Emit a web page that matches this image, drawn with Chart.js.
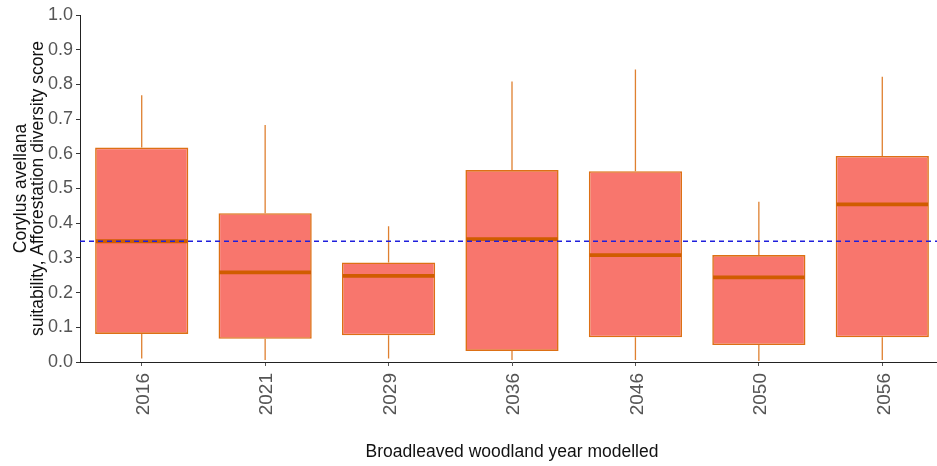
<!DOCTYPE html>
<html>
<head>
<meta charset="utf-8">
<script src="https://cdn.jsdelivr.net/npm/chart.js@4.4.1/dist/chart.umd.min.js"></script>
<style>
  html, body { margin: 0; padding: 0; background: #ffffff; overflow: hidden; }
  #wrap { width: 945px; height: 466px; }
  canvas { display: block; }
</style>
</head>
<body>
<div id="wrap"><canvas id="c" width="945" height="466"></canvas></div>
<script>
// Broadleaved woodland years and the box-plot statistics of the suitability score
const years = ['2016', '2021', '2029', '2036', '2046', '2050', '2056'];
const whiskerLow  = [0.010, 0.006, 0.010, 0.006, 0.006, 0.003, 0.006];
const quartile1   = [0.081, 0.067, 0.077, 0.032, 0.071, 0.049, 0.071];
const medians     = [0.348, 0.258, 0.248, 0.354, 0.308, 0.244, 0.454];
const quartile3   = [0.618, 0.429, 0.287, 0.553, 0.550, 0.308, 0.594];
const whiskerHigh = [0.769, 0.683, 0.391, 0.808, 0.843, 0.462, 0.822];
const referenceScore = 0.348;
const yTicks = [0, 0.1, 0.2, 0.3, 0.4, 0.5, 0.6, 0.7, 0.8, 0.9, 1.0];

const BOX_FILL = '#F8766D';
const BOX_EDGE = '#DD7015';
const WHISKER = '#DF8030';
const MEDIAN = '#D05C00';
const REF_LINE = '#1F1FDC';
const FONT = '"Liberation Sans", Arial, sans-serif';

// whiskers behind the boxes, medians and reference line on top
const boxPlotParts = {
  id: 'boxPlotParts',
  beforeDatasetsDraw(chart) {
    const ctx = chart.ctx;
    const x = chart.scales.x, y = chart.scales.y;
    ctx.save();
    ctx.strokeStyle = WHISKER;
    ctx.lineWidth = 1.3;
    years.forEach((_, i) => {
      const px = x.getPixelForValue(i);
      ctx.beginPath();
      ctx.moveTo(px, y.getPixelForValue(whiskerHigh[i]));
      ctx.lineTo(px, y.getPixelForValue(quartile3[i]));
      ctx.moveTo(px, y.getPixelForValue(quartile1[i]));
      ctx.lineTo(px, y.getPixelForValue(whiskerLow[i]));
      ctx.stroke();
    });
    ctx.restore();
  },
  afterDatasetsDraw(chart) {
    const ctx = chart.ctx;
    const y = chart.scales.y;
    const meta = chart.getDatasetMeta(0);
    ctx.save();
    ctx.strokeStyle = MEDIAN;
    ctx.lineWidth = 3.8;
    meta.data.forEach((bar, i) => {
      const half = bar.width / 2 - 0.8;
      const py = y.getPixelForValue(medians[i]);
      ctx.beginPath();
      ctx.moveTo(bar.x - half, py);
      ctx.lineTo(bar.x + half, py);
      ctx.stroke();
    });
    const area = chart.chartArea;
    const ry = y.getPixelForValue(referenceScore);
    ctx.strokeStyle = REF_LINE;
    ctx.lineWidth = 1.4;
    ctx.setLineDash([5, 4]);
    ctx.beginPath();
    ctx.moveTo(area.left, ry);
    ctx.lineTo(area.right, ry);
    ctx.stroke();
    ctx.restore();
  }
};

new Chart(document.getElementById('c'), {
  type: 'bar',
  data: {
    labels: years,
    datasets: [{
      data: years.map((_, i) => [quartile1[i], quartile3[i]]),
      backgroundColor: BOX_FILL,
      borderColor: BOX_EDGE,
      borderWidth: 1.6,
      borderSkipped: false,
      categoryPercentage: 1.0,
      barPercentage: 0.755
    }]
  },
  options: {
    responsive: false,
    animation: false,
    layout: { padding: { top: 15, right: 1, bottom: 0, left: 0 } },
    plugins: { legend: { display: false }, tooltip: { enabled: false } },
    scales: {
      x: {
        offset: true,
        afterFit(scale) { scale.height = 104; },
        grid: { drawOnChartArea: false, drawTicks: true, tickLength: 4, color: '#555555', offset: false },
        border: { display: true, color: '#222222', width: 1 },
        ticks: {
          minRotation: 90, maxRotation: 90, padding: 7, labelOffset: 2,
          color: '#555555',
          font: { family: FONT, size: 19 }
        },
        title: {
          display: true,
          text: 'Broadleaved woodland year modelled',
          color: '#111111',
          font: { family: FONT, size: 17.5 },
          padding: { top: 0, bottom: 3 }
        }
      },
      y: {
        min: 0, max: 1,
        afterFit(scale) { scale.width = 80; },
        afterBuildTicks(scale) { scale.ticks = yTicks.map(v => ({ value: v })); },
        grid: { drawOnChartArea: false, drawTicks: true, tickLength: 4, color: '#333333' },
        border: { display: true, color: '#222222', width: 1 },
        ticks: {
          padding: 3,
          color: '#555555',
          font: { family: FONT, size: 18 },
          callback: v => Number(v).toFixed(1)
        },
        title: {
          display: true,
          text: ['Corylus avellana', 'suitability, Afforestation diversity score'],
          color: '#111111',
          font: { family: FONT, size: 17.5, lineHeight: 0.95 },
          padding: { top: 13, bottom: 0 }
        }
      }
    }
  },
  plugins: [boxPlotParts]
});
</script>
</body>
</html>
